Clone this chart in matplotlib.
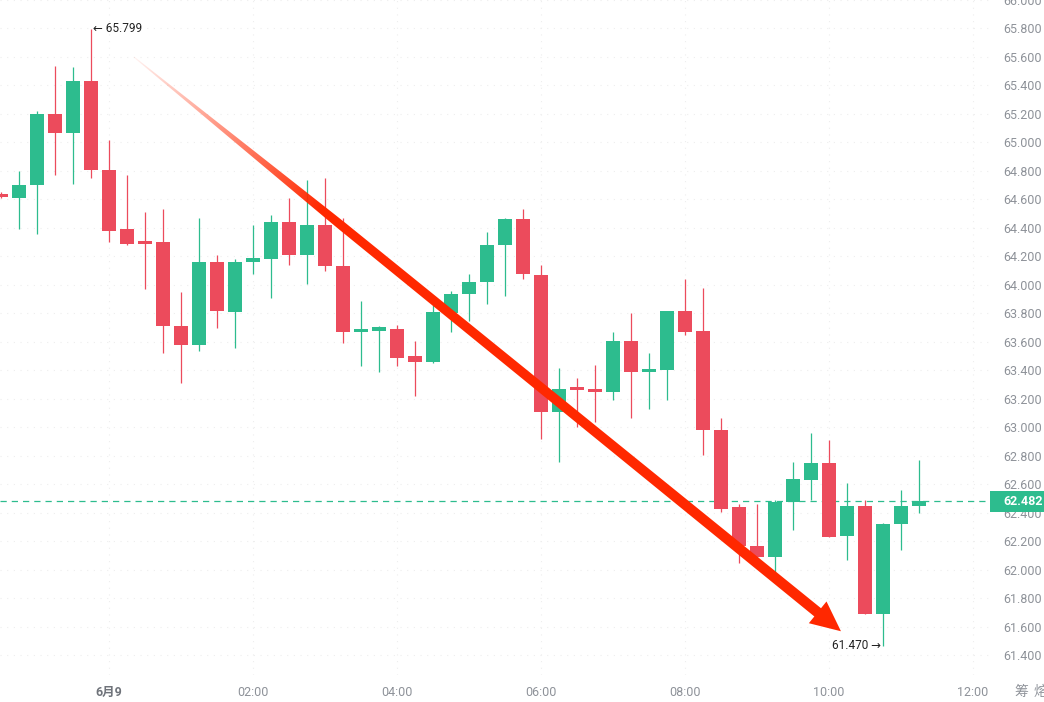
import numpy as np
import pandas as pd
import matplotlib
matplotlib.use('Agg')
import matplotlib.pyplot as plt
from matplotlib.patches import Polygon, Rectangle

plt.rcParams['font.family'] = ['Roboto', 'Noto Sans CJK SC', 'DejaVu Sans']

# 15 minute candles, 6/8 22:30 -> 6/9 11:15
times = pd.date_range('2024-06-08 22:30', periods=52, freq='15min')
opens = [64.64, 64.61, 64.70, 65.20, 65.07, 65.43, 64.81, 64.39, 64.30, 64.30,
         63.71, 63.58, 64.16, 63.81, 64.16, 64.18, 64.44, 64.21, 64.42, 64.13,
         63.67, 63.68, 63.69, 63.50, 63.46, 63.80, 63.94, 64.02, 64.28, 64.46,
         64.07, 63.11, 63.27, 63.26, 63.25, 63.61, 63.39, 63.40, 63.82, 63.68,
         62.98, 62.44, 62.17, 62.09, 62.48, 62.63, 62.75, 62.24, 62.45, 61.69,
         62.32, 62.45]
highs = [64.65, 64.80, 65.22, 65.54, 65.53, 65.799, 65.02, 64.77, 64.51, 64.53,
         63.95, 64.47, 64.21, 64.18, 64.42, 64.49, 64.61, 64.74, 64.75, 64.47,
         63.89, 63.71, 63.72, 63.61, 63.86, 63.96, 64.08, 64.37, 64.47, 64.53,
         64.14, 63.42, 63.35, 63.44, 63.67, 63.80, 63.52, 63.82, 64.04, 63.98,
         63.07, 62.46, 62.46, 62.49, 62.76, 62.96, 62.91, 62.61, 62.49, 62.33,
         62.56, 62.77]
lows = [64.61, 64.39, 64.36, 64.77, 64.71, 64.75, 64.30, 64.28, 63.97, 63.52,
        63.31, 63.54, 63.70, 63.56, 64.08, 63.91, 64.14, 64.01, 64.10, 63.59,
        63.43, 63.39, 63.43, 63.22, 63.45, 63.67, 63.75, 63.87, 63.92, 64.04,
        62.92, 62.76, 63.00, 63.04, 63.19, 63.07, 63.13, 63.19, 63.65, 62.81,
        62.41, 62.05, 62.05, 61.98, 62.28, 62.49, 62.23, 62.07, 61.69, 61.47,
        62.14, 62.40]
closes = [64.62, 64.70, 65.20, 65.07, 65.43, 64.81, 64.38, 64.29, 64.29, 63.71,
          63.58, 64.16, 63.82, 64.16, 64.19, 64.44, 64.21, 64.42, 64.13, 63.67,
          63.68, 63.69, 63.49, 63.46, 63.81, 63.94, 64.02, 64.28, 64.46, 64.08,
          63.11, 63.27, 63.26, 63.25, 63.61, 63.39, 63.40, 63.82, 63.67, 62.98,
          62.43, 62.17, 62.09, 62.48, 62.64, 62.75, 62.23, 62.45, 61.69, 62.32,
          62.45, 62.482]

last_price = 62.482
high_label = '65.799'
low_label = '61.470'
tick_hours = [0, 2, 4, 6, 8, 10, 12]
tick_labels = ['6月9', '02:00', '04:00', '06:00', '08:00', '10:00', '12:00']
# trend arrow (hours, price)
arrow_start = (0.35, 65.60)
arrow_end = (10.17, 61.57)

GREEN = '#2dbc8e'
RED = '#ec4b5c'
GRAY = '#8e9299'

day0 = pd.Timestamp('2024-06-09 00:00')
x = np.array([(t - day0) / pd.Timedelta(hours=1) for t in times])
o = np.array(opens); h = np.array(highs); l = np.array(lows); c = np.array(closes)
up = c >= o
colors = np.where(up, GREEN, RED)

fig = plt.figure(figsize=(10.44, 7.02), dpi=100)
ax = fig.add_axes([0, 27 / 702, 990 / 1044, 675 / 702])
xlim = (-1.51, 12.24)
ylim = (61.263, 66.0)
ax.set_xlim(*xlim)
ax.set_ylim(*ylim)

# faint grid
ax.set_yticks(np.arange(61.4, 66.01, 0.2))
ax.set_xticks(tick_hours)
ax.grid(True, color='#eeeeee', linestyle=(0, (1, 5)), linewidth=0.8)
ax.set_axisbelow(True)

# candles
ax.vlines(x, l, h, colors=colors, linewidth=0.9, zorder=2)
body_bottom = np.minimum(o, c)
body_h = np.maximum(np.abs(c - o), 0.022)
ax.bar(x, body_h, bottom=body_bottom, width=0.195, color=colors, linewidth=0, zorder=3)

# last price dashed line
ax.axhline(last_price, color=GREEN, linewidth=0.9, linestyle=(0, (5, 4)), zorder=1)

# high / low labels
i_hi = int(np.argmax(h)); i_lo = int(np.argmin(l))
ax.text(x[i_hi] + 0.03, h[i_hi], '\u2190 ' + high_label, fontsize=8.5, color='#222222',
        va='center', ha='left', family=['Roboto', 'DejaVu Sans'])
ax.text(x[i_lo] - 0.03, l[i_lo], low_label + ' \u2192', fontsize=8.5, color='#222222',
        va='center', ha='right', family=['Roboto', 'DejaVu Sans'])

# tapered red trend arrow, tail fading out
fig.canvas.draw()
tr = ax.transData
inv = tr.inverted()
p0 = tr.transform(arrow_start)
p1 = tr.transform(arrow_end)
d = p1 - p0
L = np.hypot(*d)
u = d / L
nrm = np.array([-u[1], u[0]])
head_len, head_half = 30, 14
base = p1 - u * head_len
ts = np.linspace(0, 1, 60)
half_w = np.where(ts < 0.3, 0.5 + (ts / 0.3) * 4.0, 4.5 + (ts - 0.3) / 0.7 * 0.8)
shaft = p0 + np.outer(ts, base - p0)
left = shaft + np.outer(half_w, nrm)
right = shaft - np.outer(half_w, nrm)
outline = np.vstack([left, base + nrm * head_half, p1, base - nrm * head_half, right[::-1]])
arrow_patch = Polygon(inv.transform(outline), closed=True, facecolor='none',
                      edgecolor='none', zorder=6)
ax.add_patch(arrow_patch)

gx = np.linspace(xlim[0], xlim[1], 700)
gy = np.linspace(ylim[0], ylim[1], 500)
GX, GY = np.meshgrid(gx, gy)
disp = tr.transform(np.column_stack([GX.ravel(), GY.ravel()]))
t = ((disp - p0) @ u / L).reshape(GX.shape)
alpha = np.clip(0.06 + t / 0.28, 0, 1)
img = np.zeros(GX.shape + (4,))
img[..., 0] = 1.0
img[..., 1] = 0.16
img[..., 2] = 0.0
img[..., 3] = alpha
im = ax.imshow(img, extent=[xlim[0], xlim[1], ylim[0], ylim[1]], origin='lower',
               aspect='auto', interpolation='bilinear', zorder=6)
im.set_clip_path(arrow_patch)
ax.set_xlim(*xlim)
ax.set_ylim(*ylim)

# right price axis
ax.yaxis.tick_right()
ax.yaxis.set_major_formatter(plt.FuncFormatter(lambda v, p: f'{v:.3f}'))
ax.tick_params(axis='y', length=0, pad=9.4, labelsize=9, labelcolor=GRAY)
ax.tick_params(axis='x', length=0, pad=8, labelsize=9, labelcolor=GRAY)
ax.set_xticklabels(tick_labels)
first = ax.get_xticklabels()[0]
first.set_fontweight('bold')
first.set_color('#6f737a')
for s in ax.spines.values():
    s.set_visible(False)

# current price tag
ytr = ax.get_yaxis_transform()
ax.add_patch(Rectangle((1.0, last_price - 0.074), 0.06, 0.148, transform=ytr,
                       facecolor=GREEN, edgecolor='none', clip_on=False, zorder=7))
ax.text(1003 / 990, last_price, f'{last_price:.3f}', transform=ytr, color='white',
        fontsize=9, fontweight='bold', va='center', ha='left', zorder=8, clip_on=False)

# side buttons, cut off at the right edge as in the original
fig.text(1014 / 1044, 10 / 702, '筹', fontsize=10, color=GRAY, va='center', ha='left',
         family=['Noto Sans CJK SC', 'DejaVu Sans'])
fig.text(1034 / 1044, 10 / 702, '熔', fontsize=10, color=GRAY, va='center', ha='left',
         family=['Noto Sans CJK SC', 'DejaVu Sans'])

fig.savefig('out.png', dpi=100, facecolor='white')
